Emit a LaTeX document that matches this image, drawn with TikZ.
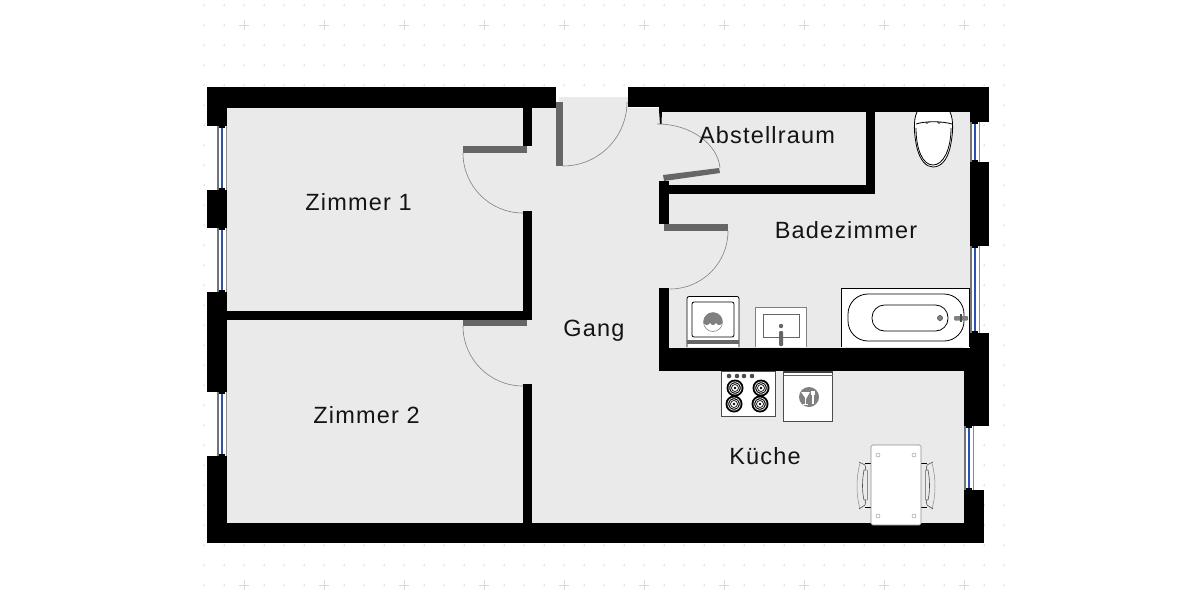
\documentclass[tikz,border=0pt]{standalone}
\usepackage{fontspec}
\setmainfont[LetterSpace=5]{Liberation Sans}
\definecolor{floorgray}{HTML}{EAEAEA}
\definecolor{leafgray}{HTML}{666666}
\definecolor{gridgray}{HTML}{E2E6E6}
\definecolor{glassblue}{HTML}{2A52B0}
\tikzset{
    wall/.style={fill=black},
    floorarea/.style={fill=floorgray},
    leaf/.style={fill=leafgray},
    swing/.style={draw=black!50, line width=0.6pt},
    fixture/.style={draw=black, fill=white, line width=0.8pt},
    fixturegray/.style={draw=black!50, fill=white, line width=1pt},
    inner/.style={draw=black, line width=0.8pt},
    icon/.style={fill=black!50},
    roomlabel/.style={font=\fontsize{23.5}{27}\selectfont, text=black!92, inner sep=0pt}
}
\begin{document}
\begin{tikzpicture}[x=1pt, y=-1pt]
    \useasboundingbox (0,0) rectangle (1200,600);
    \fill[white] (0,0) rectangle (1200,600);
    % Grid
    \foreach \gx in {204,224,...,1004}
        \foreach \gy in {5,25,...,585}
            \draw[gridgray, line width=0.6pt] (\gx-1.2,\gy) -- (\gx+1.2,\gy) (\gx,\gy-1.2) -- (\gx,\gy+1.2);
    \foreach \gx in {244,324,...,1004}
        \foreach \gy in {25,585}
            \draw[black!15, line width=0.5pt] (\gx-5,\gy) -- (\gx+5,\gy) (\gx,\gy-5) -- (\gx,\gy+5);
    % Floor
    \fill[floorarea] (227,108) rectangle (964,523);
    \fill[floorarea] (964,108) rectangle (970,346);
    \fill[floorarea] (559,97) rectangle (628,108);
    % Windows
    \foreach \wx/\wa/\wb in {222/126/190, 222/228/292, 222/392/456, 975/122/162, 975/246/333, 969/426/490} {
        \fill[white] (\wx-5,\wa) rectangle (\wx+4.5,\wb);
        \draw[black!55, line width=1.2pt] (\wx-4,\wa) -- (\wx-4,\wb);
        \draw[black!45, line width=0.8pt] (\wx+4,\wa) -- (\wx+4,\wb);
        \draw[glassblue, line width=2.2pt] (\wx,\wa) -- (\wx,\wb);
        \fill[black] (\wx-3,\wa) rectangle (\wx+3,\wa+2);
        \fill[black] (\wx-3,\wb-2) rectangle (\wx+3,\wb);
    }
    % Outer walls
    \fill[wall] (207,87) rectangle (556,108);
    \fill[wall] (628,87) rectangle (659,107);
    \fill[wall] (659,87) rectangle (989,112);
    \fill[wall] (207,87) rectangle (227,126);
    \fill[wall] (207,190) rectangle (227,228);
    \fill[wall] (207,292) rectangle (227,392);
    \fill[wall] (207,456) rectangle (227,543);
    \fill[wall] (207,523) rectangle (984,543);
    \fill[wall] (970,87) rectangle (989,122);
    \fill[wall] (970,162) rectangle (989,246);
    \fill[wall] (970,333) rectangle (989,348);
    \fill[wall] (964,348) rectangle (989,426);
    \fill[wall] (964,490) rectangle (984,543);
    % Inner walls
    \fill[wall] (523,108) rectangle (532,146);
    \fill[wall] (523,211) rectangle (532,320);
    \fill[wall] (227,311) rectangle (532,320);
    \fill[wall] (523,384) rectangle (532,523);
    \fill[wall] (866,112) rectangle (875,194);
    \fill[wall] (659,185) rectangle (875,194);
    \fill[wall] (659,181) rectangle (669,224);
    \fill[wall] (659,288) rectangle (669,371);
    \fill[wall] (659,348) rectangle (970,371);
    \fill[wall] (659,110) -- (662,110) -- (661.5,124) -- (660,124) -- cycle;
    % Doors
    \fill[leaf] (463,146) rectangle (527,153);
    \draw[swing] (463,153) arc[start angle=180, end angle=90, radius=60];
    \fill[leaf] (463,320) rectangle (527,326);
    \draw[swing] (463,326) arc[start angle=180, end angle=90, radius=60];
    \fill[leaf] (556,102) rectangle (563,166);
    \draw[swing] (563,166) arc[start angle=90, end angle=0, radius=64];
    \fill[leaf] (663,175) -- (719,168) -- (720,173) -- (664,181) -- cycle;
    \draw[swing] (657,124) .. controls (692,124) and (718,145) .. (720,168);
    \fill[leaf] (664,224) rectangle (728,231);
    \draw[swing] (728,231) arc[start angle=0, end angle=90, radius=58];
    % Washer
    \draw[fixture, rounded corners=2pt] (687,347) -- (687,296.5) -- (739,296.5) -- (739,347);
    \draw[inner, rounded corners=2pt] (692,302) rectangle (734,337);
    \fill[black!60] (687,340) rectangle (739,343.5);
    \begin{scope}
        \clip (713,322) circle[radius=9.5];
        \fill[icon] (703,312) rectangle (723,332);
        \fill[white] (703,323) .. controls (706,326) and (708,326) .. (710,323) .. controls (712,326) and (714,326) .. (716,323) .. controls (718,326) and (720,326) .. (723,323) -- (723,332) -- (703,332) -- cycle;
    \end{scope}
    \draw[black!50, line width=0.5pt] (713,322) circle[radius=9.5];
    % Sink
    \draw[fixturegray] (755,347) -- (755,307.5) -- (806.5,307.5) -- (806.5,347);
    \draw[draw=black!60, line width=0.8pt] (763,314.5) rectangle (799,337);
    \fill[black!60] (781,326) circle[radius=2.2];
    \fill[black!60, rounded corners=1pt] (779,331) rectangle (783,346);
    % Bathtub
    \draw[fixture] (841.5,347) -- (841.5,288) -- (969.5,288) -- (969.5,347);
    \draw[inner, rounded corners=20pt] (848,294) rectangle (964,341);
    \draw[inner, rounded corners=12.5pt] (872,305) rectangle (948,331);
    \fill[black!50, draw=black!80, line width=0.4pt] (940,318) circle[radius=2.6];
    \fill[black!50, rounded corners=1pt] (954,316) rectangle (968,320.5);
    \fill[black!70] (960,314) rectangle (961.5,322);
    % Toilet
    \draw[fixture] (917,112) .. controls (913,120) and (914,135) .. (917,148) .. controls (920,160) and (926,167) .. (933,167) .. controls (941,167) and (947,160) .. (950,148) .. controls (953,135) and (954,120) .. (950,112);
    \draw[inner] (916,124) .. controls (925,121) and (942,121) .. (952,124);
    \draw[inner] (916,128) .. controls (916,150) and (923,165) .. (933,165) .. controls (943,165) and (951,150) .. (951,128);
    \foreach \tx in {927,939}
        \draw[black, line width=0.6pt] (\tx-1.5,122) arc[start angle=180, end angle=0, radius=1.5];
    % Stove
    \draw[draw=black!70, fill=white, line width=0.8pt] (721,371) rectangle (775,416);
    \foreach \sx in {729,737,744,752}
        \fill[black!70] (\sx,376) circle[radius=2.3];
    \foreach \sx/\sy in {735/388, 761/388, 734/404, 760/404} {
        \fill[black] (\sx,\sy) circle[radius=8.5];
        \draw[white, line width=0.7pt] (\sx,\sy) circle[radius=6.2];
        \draw[white, line width=0.7pt] (\sx,\sy) circle[radius=4.4];
        \fill[white] (\sx,\sy) circle[radius=3];
        \fill[black] (\sx,\sy) circle[radius=1.4];
    }
    % Dishwasher
    \draw[draw=black!70, fill=white, line width=0.8pt] (783.5,371) rectangle (832.5,421.5);
    \fill[black!75] (783.5,371) rectangle (832.5,372.5);
    \draw[black!60, line width=0.6pt] (783.5,375.5) -- (832.5,375.5);
    \fill[icon] (809,397) circle[radius=10];
    \fill[white] (801,392) -- (810,392) -- (806,399) -- cycle;
    \draw[white, line width=0.9pt] (805.5,398) -- (805.5,404) (803,404.5) -- (808,404.5);
    \draw[white, line width=1.2pt] (813,391) -- (813,404);
    \draw[white, line width=0.7pt] (811.5,391) -- (811.5,395) (814.5,391) -- (814.5,395);
    % Table
    \foreach \cs/\cx in {1/0, -1/1792} {
        \begin{scope}[xshift=\cx, xscale=\cs]
            \draw[black, line width=0.7pt] (871,463) -- (865,463) (871,507) -- (865,507);
            \draw[black!45, line width=0.5pt] (860,463) .. controls (856,478) and (856,495) .. (860,509);
            \draw[black!70, line width=0.6pt] (859,462) -- (865,465) -- (866,470) -- (864,470) .. controls (862,480) and (862,492) .. (864,500) -- (866,500) -- (865,505) -- (859,509);
            \draw[black!45, line width=0.5pt] (867,470) -- (867,500);
        \end{scope}
    }
    \draw[draw=black!45, fill=white, line width=0.6pt, rounded corners=1.5pt] (871,445) rectangle (921,525);
    \foreach \tx/\ty in {878/455, 914/455, 878/516, 914/516}
        \draw[black!40, line width=0.5pt] (\tx,\ty) circle[radius=2];
    % Labels
    \node (zimmereins) [roomlabel] at (358.5,202) {Zimmer 1};
    \node (zimmerzwei) [roomlabel] at (366.5,415) {Zimmer 2};
    \node (gang) [roomlabel] at (594,331) {Gang};
    \node (abstellraum) [roomlabel] at (767,135) {Abstellraum};
    \node (badezimmer) [roomlabel] at (846,230) {Badezimmer};
    \node (kueche) [roomlabel] at (765,456) {Küche};
\end{tikzpicture}
\end{document}
